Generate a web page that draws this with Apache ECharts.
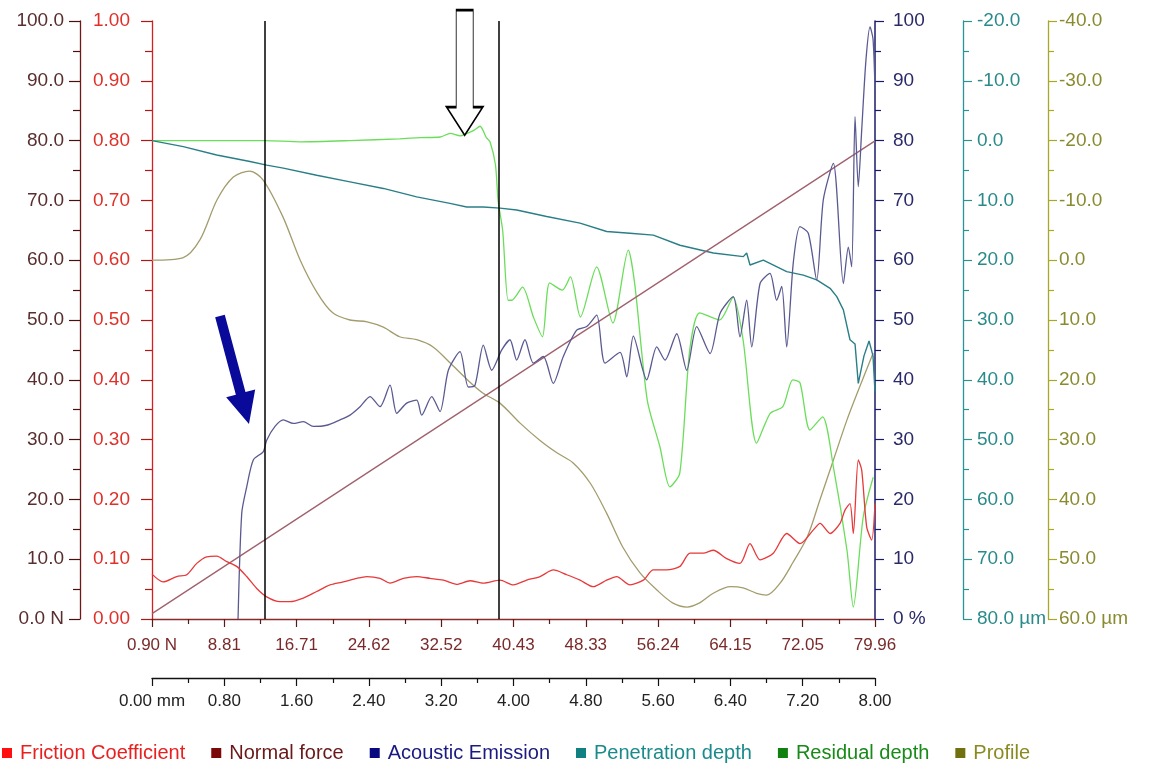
<!DOCTYPE html>
<html><head><meta charset="utf-8">
<script src="https://cdn.jsdelivr.net/npm/echarts@6/dist/echarts.min.js"></script>
<style>html,body{margin:0;padding:0;background:#fff}#c{width:1150px;height:764px}</style>
</head><body><div id="c"></div>
<script>
// ---------- tick labels ----------
const mmTicks = ['0.00 mm','0.80','1.60','2.40','3.20','4.00','4.80','5.60','6.40','7.20','8.00'];
const forceTicks = ['0.90 N','8.81','16.71','24.62','32.52','40.43','48.33','56.24','64.15','72.05','79.96'];
const forceAxisTicks = ['0.0 N','10.0','20.0','30.0','40.0','50.0','60.0','70.0','80.0','90.0','100.0'];
const frictionTicks = ['0.00','0.10','0.20','0.30','0.40','0.50','0.60','0.70','0.80','0.90','1.00'];
const aeTicks = ['0 %','10','20','30','40','50','60','70','80','90','100'];
const penTicks = ['-20.0','-10.0','0.0','10.0','20.0','30.0','40.0','50.0','60.0','70.0','80.0 µm'];
const profTicks = ['-40.0','-30.0','-20.0','-10.0','0.0','10.0','20.0','30.0','40.0','50.0','60.0 µm'];

// ---------- series data: [distance mm, value] ----------
const normalForce = [[0,0.90],[8,79.96]];
const friction = [[0,0.075],[0.122,0.062],[0.273,0.071],[0.384,0.074],[0.495,0.093],[0.605,0.104],[0.716,0.105],[0.827,0.096],[0.937,0.088],[1.048,0.071],[1.159,0.051],[1.269,0.037],[1.416,0.029],[1.527,0.029],[1.674,0.035],[1.822,0.046],[1.970,0.057],[2.117,0.062],[2.265,0.068],[2.376,0.071],[2.523,0.068],[2.634,0.060],[2.781,0.068],[2.929,0.071],[3.076,0.068],[3.223,0.065],[3.372,0.058],[3.519,0.064],[3.666,0.060],[3.851,0.065],[3.998,0.057],[4.146,0.065],[4.293,0.071],[4.441,0.082],[4.589,0.074],[4.736,0.065],[4.883,0.054],[5.031,0.065],[5.142,0.071],[5.289,0.057],[5.436,0.065],[5.547,0.082],[5.695,0.082],[5.842,0.088],[5.953,0.110],[6.100,0.110],[6.211,0.115],[6.359,0.101],[6.506,0.093],[6.617,0.126],[6.728,0.099],[6.875,0.110],[7.023,0.143],[7.170,0.126],[7.318,0.149],[7.392,0.160],[7.503,0.143],[7.613,0.160],[7.668,0.182],[7.723,0.193],[7.760,0.143],[7.815,0.266],[7.853,0.249],[7.908,0.154],[7.963,0.132],[8.0,0.193]];
const acoustic = [[0.952,0],[0.993,17.7],[1.048,22.1],[1.121,26.6],[1.232,28.0],[1.269,29.9],[1.361,32.2],[1.453,33.3],[1.563,32.7],[1.674,33.0],[1.785,32.2],[1.933,32.4],[2.080,33.3],[2.191,34.1],[2.302,35.5],[2.412,37.2],[2.523,35.5],[2.634,39.1],[2.708,34.4],[2.818,36.1],[2.929,36.6],[2.984,34.1],[3.095,37.2],[3.187,34.7],[3.279,41.6],[3.408,44.7],[3.500,38.8],[3.574,39.1],[3.666,45.8],[3.759,41.6],[3.870,45.0],[3.961,46.7],[4.035,43.3],[4.127,46.7],[4.219,42.8],[4.330,43.9],[4.440,39.4],[4.551,43.9],[4.699,48.3],[4.810,48.9],[4.921,50.8],[5.013,42.8],[5.179,44.6],[5.253,40.5],[5.326,47.3],[5.474,40.0],[5.585,45.5],[5.677,43.3],[5.806,47.7],[5.917,41.6],[6.027,48.9],[6.175,44.4],[6.285,51.1],[6.432,53.9],[6.506,47.2],[6.580,53.3],[6.636,45.5],[6.728,56.1],[6.838,57.8],[6.912,53.3],[6.968,55.6],[7.023,45.5],[7.096,59.6],[7.170,65.6],[7.262,64.5],[7.355,56.7],[7.428,70.1],[7.539,76.2],[7.650,56.1],[7.705,62.2],[7.742,58.9],[7.779,84.0],[7.815,72.3],[7.853,81.8],[7.900,93.5],[7.945,99.0],[7.978,97.0],[8.0,88.5]];
const penetration = [[0,0],[0.346,1.0],[0.716,2.4],[1.084,3.5],[1.269,4.1],[1.453,4.6],[1.822,5.8],[2.191,6.9],[2.560,8.0],[2.929,9.4],[3.297,10.5],[3.482,11.1],[3.666,11.1],[3.851,11.3],[4.035,11.6],[4.367,12.7],[4.736,13.8],[5.031,15.2],[5.289,15.5],[5.547,15.8],[5.842,17.5],[6.211,18.8],[6.543,19.4],[6.580,18.8],[6.617,20.8],[6.764,20.0],[7.023,21.9],[7.207,22.5],[7.355,23.3],[7.503,24.7],[7.577,26.1],[7.650,28.3],[7.723,33.3],[7.779,34.0],[7.815,40.6],[7.878,36.0],[7.934,33.5],[7.978,36.0],[8.0,42.0]];
const residual = [[0,0],[1.25,0],[1.64,0.2],[2.19,0],[2.74,-0.3],[2.97,-0.5],[3.19,-0.6],[3.30,-1.2],[3.41,-0.8],[3.50,-1.3],[3.57,-1.8],[3.63,-2.4],[3.70,-0.5],[3.74,0.2],[3.80,4.0],[3.83,10.1],[3.88,15.0],[3.94,26.7],[3.98,26.7],[4.10,24.5],[4.22,29.5],[4.32,32.8],[4.40,23.8],[4.54,25.0],[4.63,22.8],[4.74,29.5],[4.92,21.1],[5.10,30.5],[5.27,18.3],[5.34,23.8],[5.48,43.4],[5.62,51.2],[5.73,57.9],[5.84,55.6],[5.95,35.0],[6.06,28.8],[6.28,30.0],[6.43,26.2],[6.54,33.3],[6.69,50.6],[6.84,45.6],[6.98,44.5],[7.09,40.0],[7.17,40.5],[7.28,48.4],[7.42,46.2],[7.54,54.6],[7.69,68.5],[7.76,78.0],[7.87,62.9],[7.98,56.3]];
const profile = [[0,0],[0.34,-0.4],[0.53,-3.4],[0.72,-10.1],[0.90,-13.9],[1.08,-14.9],[1.23,-13.4],[1.45,-7.2],[1.64,0.0],[1.83,5.5],[2.00,8.8],[2.19,10.0],[2.38,10.3],[2.56,11.2],[2.74,12.8],[2.93,13.3],[3.11,14.5],[3.30,17.2],[3.49,20.0],[3.66,22.2],[3.85,23.9],[4.07,27.2],[4.29,30.1],[4.48,32.2],[4.66,33.9],[4.85,37.3],[5.03,42.3],[5.21,48.0],[5.40,52.3],[5.59,55.2],[5.76,57.3],[5.92,58.0],[6.06,57.3],[6.21,55.7],[6.40,54.6],[6.54,54.8],[6.69,55.7],[6.80,56.0],[6.95,54.0],[7.09,50.6],[7.25,46.3],[7.39,40.1],[7.54,33.4],[7.69,26.7],[7.83,21.2],[7.98,15.5]];
// annotation positions (data coordinates)
const markerLines = [1.25, 3.84];
const hollowArrowTip = [3.46, -0.9];   // residual depth axis
const blueArrowTip = [1.073, 32.6];   // acoustic emission axis

const FONT = 'Liberation Sans';
function tickFmt(arr, min, step){ return v => arr[Math.round((v-min)/step)] ?? ''; }

function yAx(o){
  return Object.assign({
    type:'value', interval:10, splitLine:{show:false}
  }, o);
}
function xAx(o){
  return Object.assign({type:'value',min:0,max:8,interval:0.8,position:'bottom',splitLine:{show:false}}, o);
}

const chart = echarts.init(document.getElementById('c'), null, {renderer:'canvas'});
chart.setOption({
  animation:false,
  backgroundColor:'#fff',
  grid:{left:152,right:275,top:21,bottom:145},
  xAxis:[
    xAx({offset:0,
     axisLine:{onZero:false,lineStyle:{color:'#8a2a2a',width:1.3}},
     axisTick:{length:8,lineStyle:{color:'#5a1a1a',width:1.2}},
     minorTick:{show:true,splitNumber:2,length:5,lineStyle:{color:'#5a1a1a',width:1.2}},
     axisLabel:{margin:18,fontFamily:FONT,fontSize:17,color:'#7a2a2a',formatter:tickFmt(forceTicks,0,0.8)}}),
    xAx({offset:59,
     axisLine:{onZero:false,lineStyle:{color:'#111',width:1.3}},
     axisTick:{length:8,lineStyle:{color:'#111',width:1.2}},
     minorTick:{show:true,splitNumber:2,length:5,lineStyle:{color:'#111',width:1.2}},
     axisLabel:{margin:15,fontFamily:FONT,fontSize:17,color:'#222',formatter:tickFmt(mmTicks,0,0.8)}})
  ],
  yAxis:[
    yAx({min:0,max:100,position:'left',offset:72,
      axisLine:{show:true,onZero:false,lineStyle:{color:'#6b1a1a',width:1.3}},
      axisTick:{show:true,length:11,lineStyle:{color:'#4a1010',width:1.2}},
      minorTick:{show:true,splitNumber:2,length:7,lineStyle:{color:'#4a1010',width:1.2}},
      axisLabel:{margin:16,fontFamily:FONT,fontSize:19,color:'#5a2e2e',formatter:tickFmt(forceAxisTicks,0,10)}}),
    yAx({min:0,max:1,interval:0.1,position:'left',offset:0,
      axisLine:{show:true,onZero:false,lineStyle:{color:'#d42020',width:1.3}},
      axisTick:{show:true,length:11,lineStyle:{color:'#b01818',width:1.2}},
      minorTick:{show:true,splitNumber:2,length:7,lineStyle:{color:'#b01818',width:1.2}},
      axisLabel:{margin:22,fontFamily:FONT,fontSize:19,color:'#e0302a',formatter:tickFmt(frictionTicks,0,0.1)}}),
    yAx({min:0,max:100,position:'right',offset:0,
      axisLine:{show:true,onZero:false,lineStyle:{color:'#1a1a6a',width:1.5}},
      axisTick:{show:true,length:9,lineStyle:{color:'#1a1a6a',width:1.2}},
      minorTick:{show:true,splitNumber:2,length:6,lineStyle:{color:'#1a1a6a',width:1.2}},
      axisLabel:{margin:18,fontFamily:FONT,fontSize:19,color:'#2a2a6a',formatter:tickFmt(aeTicks,0,10)}}),
    yAx({min:-20,max:80,inverse:true,position:'right',offset:88,
      axisLine:{show:true,onZero:false,lineStyle:{color:'#2a9494',width:1.3}},
      axisTick:{show:true,length:9,lineStyle:{color:'#2a9494',width:1.2}},
      minorTick:{show:true,splitNumber:2,length:6,lineStyle:{color:'#2a9494',width:1.2}},
      axisLabel:{margin:14,fontFamily:FONT,fontSize:19,color:'#2a8a8a',formatter:tickFmt(penTicks,-20,10)}}),
    yAx({min:-40,max:60,inverse:true,position:'right',offset:173,
      axisLine:{show:true,onZero:false,lineStyle:{color:'#a8a828',width:1.3}},
      axisTick:{show:true,length:9,lineStyle:{color:'#a8a828',width:1.2}},
      minorTick:{show:true,splitNumber:2,length:6,lineStyle:{color:'#a8a828',width:1.2}},
      axisLabel:{margin:11,fontFamily:FONT,fontSize:19,color:'#8a8a30',formatter:tickFmt(profTicks,-40,10)}})
  ],
  legend:{
    left:-3, top:738, itemWidth:10, itemHeight:10, itemGap:26, icon:'rect',
    textStyle:{fontFamily:FONT,fontSize:20,padding:[0,0,0,3]},
    data:[
      {name:'Friction Coefficient',itemStyle:{color:'#ff1010'},textStyle:{color:'#e82020'}},
      {name:'Normal force',itemStyle:{color:'#7a0a0a'},textStyle:{color:'#6a1818'}},
      {name:'Acoustic Emission',itemStyle:{color:'#0a0a80'},textStyle:{color:'#1a1a80'}},
      {name:'Penetration depth',itemStyle:{color:'#108080'},textStyle:{color:'#1a8a8a'}},
      {name:'Residual depth',itemStyle:{color:'#108010'},textStyle:{color:'#188a18'}},
      {name:'Profile',itemStyle:{color:'#707010'},textStyle:{color:'#8a8a20'}}
    ]
  },
  series:[
    {name:'Profile',type:'line',xAxisIndex:0,yAxisIndex:4,data:profile,showSymbol:false,smooth:0.3,
     lineStyle:{color:'#a39c6c',width:1.3},itemStyle:{color:'#a39c6c'}},
    {name:'Residual depth',type:'line',xAxisIndex:0,yAxisIndex:3,data:residual,showSymbol:false,smooth:0.25,
     lineStyle:{color:'#6ade5a',width:1.3},itemStyle:{color:'#6ade5a'},
     markPoint:{silent:true,label:{show:false},data:[{coord:hollowArrowTip,
       symbol:'path://M9.5,0 L26.5,0 L26.5,97 L36,97 L18,125 L0,97 L9.5,97 Z',
       symbolSize:[36,125],symbolOffset:[0,-62.5],
       itemStyle:{color:'#ffffff',borderColor:'#000',borderWidth:1.5}}]}},
    {name:'Penetration depth',type:'line',xAxisIndex:0,yAxisIndex:3,data:penetration,showSymbol:false,
     lineStyle:{color:'#2a7f86',width:1.4},itemStyle:{color:'#2a7f86'}},
    {name:'Normal force',type:'line',xAxisIndex:0,yAxisIndex:0,data:normalForce,showSymbol:false,
     lineStyle:{color:'#a0606c',width:1.3},itemStyle:{color:'#a0606c'},
     markLine:{silent:true,symbol:'none',label:{show:false},
       lineStyle:{color:'#000',type:'solid',width:1.5},
       data:markerLines.map(x=>({xAxis:x}))}},
    {name:'Acoustic Emission',type:'line',xAxisIndex:0,yAxisIndex:2,data:acoustic,showSymbol:false,smooth:0.25,
     lineStyle:{color:'#5a5a92',width:1.3},itemStyle:{color:'#5a5a92'},
     markPoint:{silent:true,label:{show:false},data:[{coord:blueArrowTip,
       symbol:'path://M0.2,3.3 L9.8,0.7 L30.5,78 L40.2,75.4 L34,110 L11.2,83.2 L20.9,80.6 Z',
       symbolSize:[40,109.3],symbolOffset:[-13.8,-54.65],
       itemStyle:{color:'#0a0a9a',borderWidth:0}}]}},
    {name:'Friction Coefficient',type:'line',xAxisIndex:0,yAxisIndex:1,data:friction,showSymbol:false,smooth:0.25,
     lineStyle:{color:'#e83838',width:1.3},itemStyle:{color:'#e83838'}}
  ]
});
</script></body></html>
